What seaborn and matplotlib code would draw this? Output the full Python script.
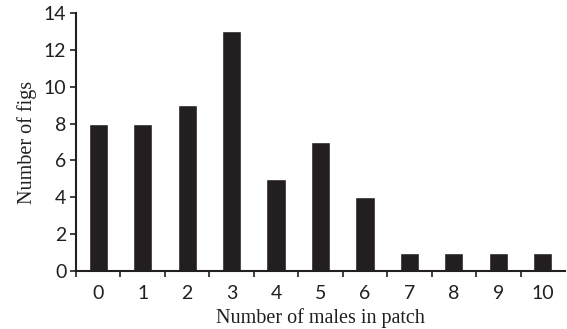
import numpy as np
import pandas as pd
import matplotlib
matplotlib.use("Agg")
import matplotlib.pyplot as plt
import seaborn as sns

# data
males = [0, 1, 2, 3, 4, 5, 6, 7, 8, 9, 10]
figs = [8, 8, 9, 13, 5, 7, 4, 1, 1, 1, 1]
y_ticks = [0, 2, 4, 6, 8, 10, 12, 14]

df = pd.DataFrame({"males": males, "figs": figs})

sns.set_style("ticks")
ink = "#231f20"

fig = plt.figure(figsize=(5.67, 3.29), dpi=100)
ax = fig.add_axes([76 / 567, 1 - 271 / 329, (565 - 76) / 567, (271 - 13) / 329])

sns.barplot(data=df, x="males", y="figs", color=ink, saturation=1,
            width=0.43, ax=ax)

ax.set_ylim(0, 14)
ax.set_xlim(-0.5, 10.5)
ax.set_yticks(y_ticks)

# tick marks sit between the bars, labels under them
ax.set_xticks(np.arange(-0.5, 10, 1.0), minor=True)
ax.tick_params(axis="x", which="major", length=0, pad=10)
ax.tick_params(axis="x", which="minor", length=4, width=1.2, color=ink,
               direction="out")
ax.tick_params(axis="y", length=4, width=1.2, color=ink, direction="out", pad=3)

for lab in ax.get_xticklabels() + ax.get_yticklabels():
    lab.set_fontfamily("Lato")
    lab.set_fontsize(14)
    lab.set_color(ink)

serif = {"family": "Liberation Serif", "size": 14.5, "color": ink}
ax.set_xlabel("Number of males in patch", fontdict=serif, labelpad=4.5)
ax.set_ylabel("Number of figs", fontdict=serif, labelpad=5)

sns.despine(ax=ax)
for s in ["left", "bottom"]:
    ax.spines[s].set_color(ink)
    ax.spines[s].set_linewidth(1.5)

fig.savefig("out.png", dpi=100)
